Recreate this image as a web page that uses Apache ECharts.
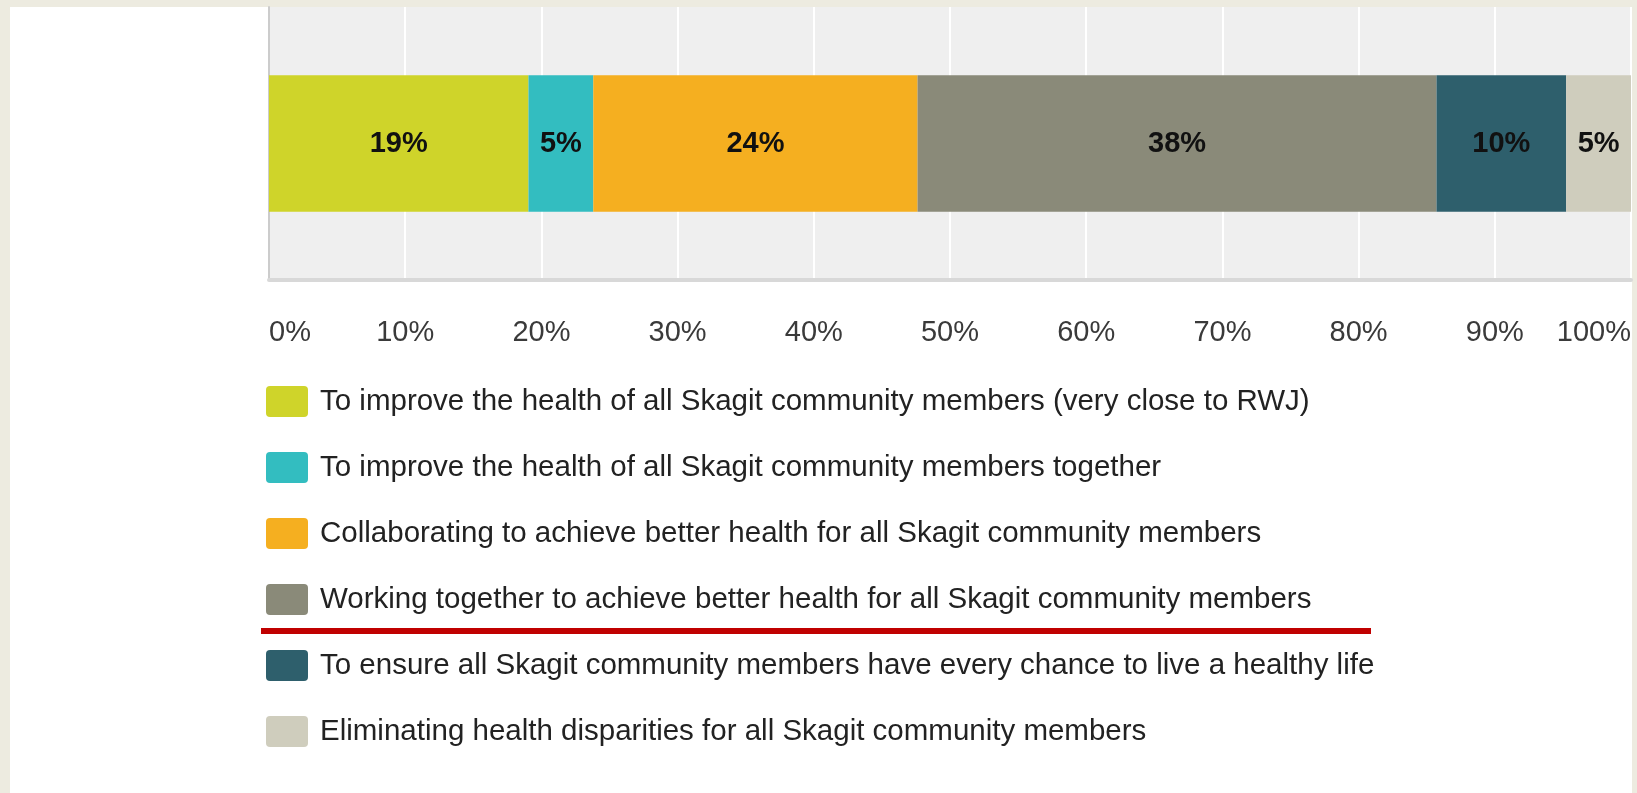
<!DOCTYPE html>
<html>
<head>
<meta charset="utf-8">
<title>Skagit purpose statement</title>
<script src="https://cdn.jsdelivr.net/npm/echarts@6/dist/echarts.min.js"></script>
<style>
  html, body { margin: 0; padding: 0; background: #edebe0; }
  #main { width: 1637px; height: 793px; }
</style>
</head>
<body>
<div id="main"></div>
<script>
// answers (legend / stack order)
var answers = [
  'To improve the health of all Skagit community members (very close to RWJ)',
  'To improve the health of all Skagit community members together',
  'Collaborating to achieve better health for all Skagit community members',
  'Working together to achieve better health for all Skagit community members',
  'To ensure all Skagit community members have every chance to live a healthy life',
  'Eliminating health disparities for all Skagit community members'
]
// share of responses, percent
var shares = [19.05, 4.76, 23.81, 38.10, 9.52, 4.76]
var colors = ['#cfd42a', '#33bdc0', '#f5af20', '#8a8a79', '#2e5f6c', '#cfcdbd']
var categories = ['']

var font = "'Liberation Sans', Arial, sans-serif"
var chart = echarts.init(document.getElementById('main'))

var series = answers.map(function (name, i) {
  return {
    name: name,
    type: 'bar',
    stack: 'total',
    barWidth: '50%',
    itemStyle: { color: colors[i] },
    label: {
      show: true,
      position: 'inside',
      fontFamily: font,
      fontSize: 29,
      fontWeight: 'bold',
      color: '#111',
      formatter: function (p) {
        return Math.round(p.value) + '%'
      }
    },
    data: [shares[i]]
  }
})

chart.setOption({
  backgroundColor: '#edebe0',
  animation: false,
  textStyle: { fontFamily: font },
  graphic: [
    {
      type: 'rect',
      z: -10,
      shape: { x: 10, y: 7, width: 1622, height: 800 },
      style: { fill: '#ffffff' }
    },
    {
      type: 'line',
      z: 10,
      shape: { x1: 261, y1: 631, x2: 1371, y2: 631 },
      style: { stroke: '#c00000', lineWidth: 6 }
    }
  ],
  grid: {
    left: 269,
    right: 6,
    top: 7,
    bottom: 513,
    show: true,
    backgroundColor: '#efefef',
    borderWidth: 0
  },
  legend: {
    orient: 'vertical',
    left: 266,
    top: 386,
    padding: 0,
    itemWidth: 42,
    itemHeight: 31,
    itemGap: 35,
    icon: 'path://M4 0H38Q42 0 42 4V27Q42 31 38 31H4Q0 31 0 27V4Q0 0 4 0Z',
    textStyle: {
      fontFamily: font,
      fontSize: 29.5,
      color: '#222',
      padding: [0, 0, 0, 7]
    },
    data: answers
  },
  xAxis: {
    type: 'value',
    min: 0,
    max: 100,
    interval: 10,
    axisLine: { show: true, lineStyle: { color: '#d8d8d8', width: 4 } },
    axisTick: { show: false },
    splitLine: { show: true, lineStyle: { color: '#ffffff', width: 2 } },
    axisLabel: {
      margin: 38,
      fontFamily: font,
      fontSize: 29,
      color: '#3a3a3a',
      alignMinLabel: 'left',
      alignMaxLabel: 'right',
      formatter: '{value}%'
    }
  },
  yAxis: {
    type: 'category',
    data: categories,
    axisLine: { show: true, lineStyle: { color: '#cccccc', width: 2 } },
    axisTick: { show: false },
    axisLabel: { show: false }
  },
  series: series
})
</script>
</body>
</html>
